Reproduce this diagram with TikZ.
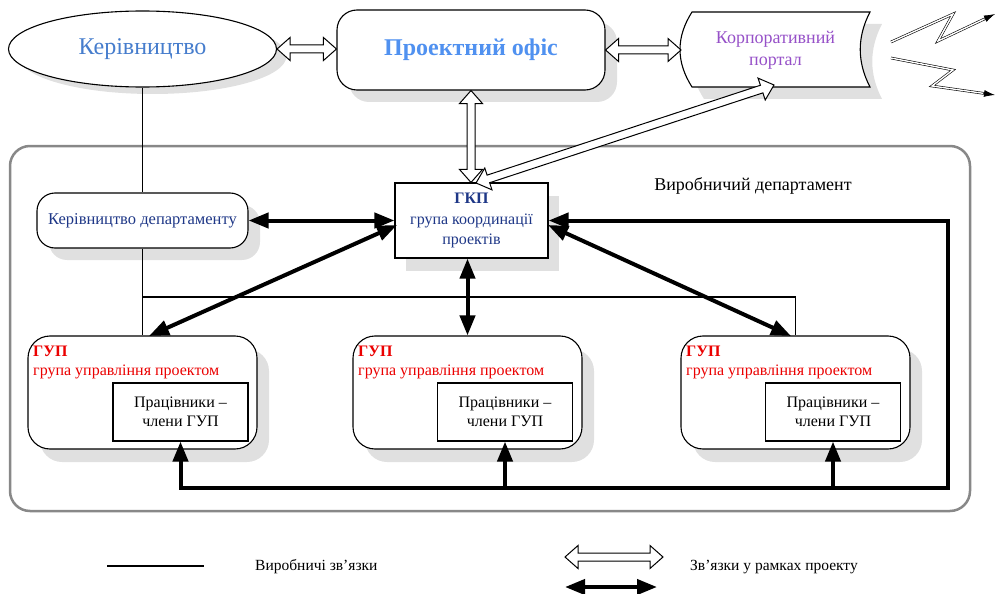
\documentclass[tikz,border=0pt]{standalone}
\usepackage{fontspec}
\setmainfont{Liberation Serif}
\usetikzlibrary{arrows.meta,shapes.geometric,shadows,calc}
\definecolor{leadblue}{RGB}{70,125,205}
\definecolor{officeblue}{RGB}{80,145,240}
\definecolor{portalpurple}{RGB}{150,80,200}
\definecolor{darkblue}{RGB}{30,55,135}
\definecolor{gupred}{RGB}{235,0,0}
\definecolor{shadowgray}{RGB}{224,224,224}
\definecolor{framegray}{RGB}{136,136,136}
\newcommand\oarr[2]{%
  \pgfpointdiff{\pgfpointanchor{#1}{center}}{\pgfpointanchor{#2}{center}}%
  \pgfgetlastxy{\oax}{\oay}%
  \pgfmathsetmacro\oalen{veclen(\oax,\oay)}%
  \pgfmathsetmacro\oaang{atan2(\oay,\oax)}%
  \draw[openarr, shift={(#1)}, rotate=\oaang] (0,0) -- (13,11.5) -- (13,4) -- ({\oalen-13},4) -- ({\oalen-13},11.5) -- (\oalen,0) -- ({\oalen-13},-11.5) -- ({\oalen-13},-4) -- (13,-4) -- (13,-11.5) -- cycle;%
}
\newcommand\portalpath{(692,12) -- (870,12) .. controls (857,37) and (857,62) .. (870,87) -- (692,87) .. controls (676,62) and (676,37) .. (692,12) -- cycle}
\tikzset{
  shad/.style={drop shadow={shadow xshift=12pt, shadow yshift=-12pt, fill=shadowgray, opacity=1}},
  leadnode/.style={ellipse, draw, fill=white, line width=1.1pt, minimum width=268pt, minimum height=76pt, inner sep=0pt, text=leadblue, font=\fontsize{24}{28}\selectfont, drop shadow={shadow xshift=10pt, shadow yshift=-7pt, fill=shadowgray, opacity=1}},
  officenode/.style={rectangle, rounded corners=20pt, draw, fill=white, line width=1.1pt, minimum width=268pt, minimum height=80pt, text=officeblue, font=\fontsize{24}{28}\selectfont\bfseries, shad},
  kdnode/.style={rectangle, rounded corners=18pt, draw, fill=white, line width=1.1pt, minimum width=211pt, minimum height=55pt, inner sep=0pt, text=darkblue, font=\fontsize{16.5}{20}\selectfont, shad},
  gkpnode/.style={rectangle, draw, fill=white, line width=1.1pt, minimum width=153pt, minimum height=75pt, inner sep=0pt, text=darkblue, align=center, font=\fontsize{16}{20.5}\selectfont, drop shadow={shadow xshift=11pt, shadow yshift=-13pt, fill=shadowgray, opacity=1}},
  gupnode/.style={rectangle, rounded corners=22pt, draw, fill=white, line width=1.1pt, minimum width=229pt, minimum height=113pt, drop shadow={shadow xshift=12pt, shadow yshift=-13pt, fill=shadowgray, opacity=1}},
  innernode/.style={rectangle, draw, fill=white, line width=1.1pt, minimum width=135pt, minimum height=58pt, inner sep=0pt, align=center, font=\fontsize{16}{19}\selectfont},
  guptitle/.style={anchor=base west, inner sep=0pt, text=gupred, font=\fontsize{16}{19}\selectfont},
  framenode/.style={rectangle, rounded corners=20pt, draw=framegray, line width=2.5pt, minimum width=960pt, minimum height=365pt},
  legtext/.style={anchor=west, inner sep=0pt, font=\fontsize{15.5}{18}\selectfont},
  thinline/.style={line width=1.1pt},
  thickarr/.style={line width=4pt, >={Triangle[length=20pt,width=15pt]}},
  openarr/.style={draw=black, fill=white, line width=1pt, line join=miter},
  bolt/.style={double=white, double distance=1.4pt, line width=0.6pt, line join=miter},
  bolttip/.style={line width=0.7pt, -{Latex[length=11pt,width=7pt]}}
}
\begin{document}
\begin{tikzpicture}[x=1pt,y=-1pt]
\useasboundingbox (0,0) rectangle (997,594);
% frame
\node[framenode] (frame) at (490,328.5) {};
\node[inner sep=0pt, font=\fontsize{18}{22}\selectfont] (dept) at (753,186) {Виробничий департамент};
% top nodes
\node[leadnode] (lead) at (142.5,49) {Керівництво};
\node[officenode] (office) at (471,50) {Проектний офіс};
\fill[shadowgray, shift={(12,12)}] \portalpath;
\draw[fill=white, line width=1.1pt] \portalpath;
\node[text=portalpurple, align=center, inner sep=0pt, font=\fontsize{18}{22}\selectfont] (portal) at (775.5,50) {Корпоративний\\портал};
% department nodes
\node[kdnode] (kd) at (142.5,220.5) {Керівництво департаменту};
\node[gkpnode] (gkp) at (471.5,220.5) {\textbf{ГКП}\\група координації\\проектів};
\node[gupnode] (gup1) at (142.5,392.5) {};
\node[gupnode] (gup2) at (467.5,392.5) {};
\node[gupnode] (gup3) at (795.5,392.5) {};
\node[innernode] (in1) at (180.5,412) {Працівники –\\члени ГУП};
\node[innernode] (in2) at (505,412) {Працівники –\\члени ГУП};
\node[innernode] (in3) at (833,412) {Працівники –\\члени ГУП};
\node[guptitle] (gt1) at (33,356) {\textbf{ГУП}};
\node[guptitle] (gs1) at (33,375) {група управління проектом};
\node[guptitle] (gt2) at (358,356) {\textbf{ГУП}};
\node[guptitle] (gs2) at (358,375) {група управління проектом};
\node[guptitle] (gt3) at (686,356) {\textbf{ГУП}};
\node[guptitle] (gs3) at (686,375) {група управління проектом};
% thin production links
\coordinate (j1) at (142.5,297);
\coordinate (j3) at (795.5,297);
\draw[thinline] (lead.south) -- (kd.north);
\draw[thinline] (kd.south) -- (gup1.north);
\draw[thinline] (j1) -- (j3) -- (gup3.north);
% open double arrows
\coordinate (o1) at (lead.east);
\coordinate (o2) at (lead.east -| office.west);
\oarr{o1}{o2}
\coordinate (o3) at (office.east);
\coordinate (o4) at (681,50);
\oarr{o3}{o4}
\coordinate (o5) at (office.south);
\coordinate (o6) at (office.south |- gkp.north);
\oarr{o5}{o6}
\coordinate (o7) at (774,85);
\coordinate (o8) at (476,183);
\oarr{o7}{o8}
% thick project links
\coordinate (g1) at (397,225);
\coordinate (u1) at (149,336);
\coordinate (g2) at (gkp.south -| gup2.north);
\coordinate (g3) at (548,225);
\coordinate (u3) at (791,336);
\draw[thickarr, <->] (kd.east) -- (gkp.west);
\draw[thickarr, <->] (g1) -- (u1);
\draw[thickarr, <->] (g2) -- (gup2.north);
\draw[thickarr, <->] (g3) -- (u3);
\coordinate (b1) at (948,220.5);
\coordinate (b2) at (948,488);
\coordinate (b3) at (180.5,488);
\draw[thickarr, <->] (gkp.east) -- (b1) -- (b2) -- (b3) -- (in1.south);
\draw[thickarr, ->] (in2.south |- b2) -- (in2.south);
\draw[thickarr, ->] (in3.south |- b2) -- (in3.south);
% lightning
\coordinate (z1) at (891,42);
\coordinate (z2) at (953,14);
\coordinate (z3) at (938,41);
\coordinate (z4) at (995,14);
\coordinate (z5) at (891,58);
\coordinate (z6) at (953,70);
\coordinate (z7) at (932,86);
\coordinate (z8) at (995,95);
\draw[bolt, shorten >=6pt] (z1) -- (z2) -- (z3) -- (z4);
\draw[bolttip] ($(z4)!12pt!(z3)$) -- (z4);
\draw[bolt, shorten >=6pt] (z5) -- (z6) -- (z7) -- (z8);
\draw[bolttip] ($(z8)!12pt!(z7)$) -- (z8);
% legend
\coordinate (l1) at (107,566);
\coordinate (l2) at (204,566);
\draw[thinline] (l1) -- (l2);
\node[legtext] (lt1) at (255,567) {Виробничі зв’язки};
\coordinate (l3) at (565,557);
\coordinate (l4) at (663,557);
\oarr{l3}{l4}
\coordinate (l5) at (565,587);
\coordinate (l6) at (657,587);
\draw[thickarr, <->] (l5) -- (l6);
\node[legtext] (lt2) at (690,567) {Зв’язки у рамках проекту};
\end{tikzpicture}
\end{document}
